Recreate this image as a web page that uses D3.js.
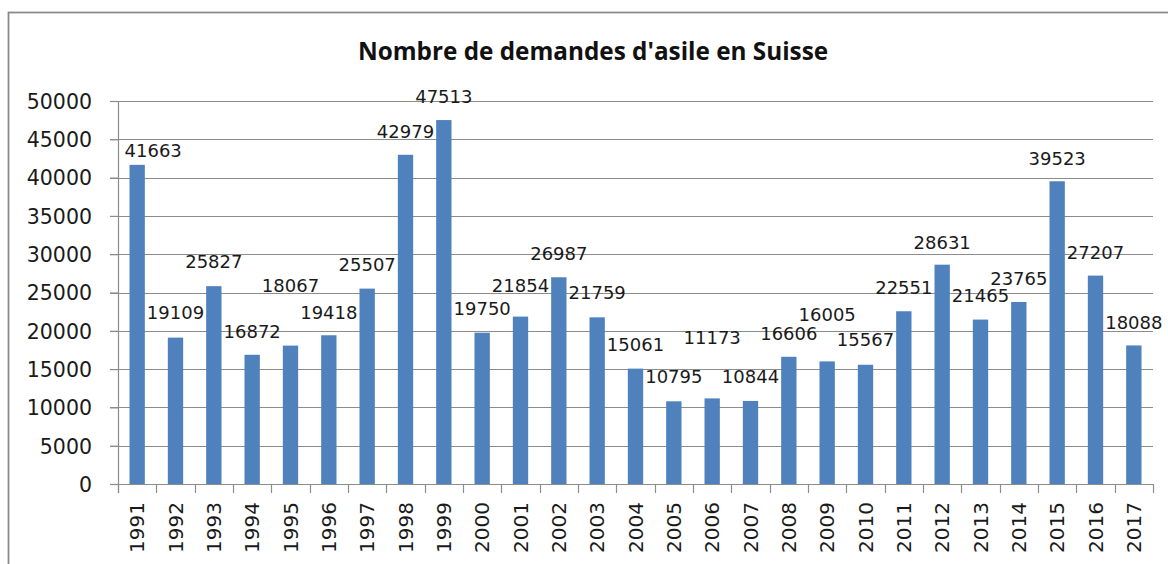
<!DOCTYPE html>
<html>
  <head>
    <title>Nombre de demandes d'asile en Suisse</title>
    <script src="https://unpkg.com/d3@7/dist/d3.min.js"></script>
    <style>
    body { margin: 0; background: #fff; overflow: hidden; }
    .grid line { stroke: #8c8c8c; stroke-width: 1.2; }
    .axisY path { display: none; }
    .axisY line { stroke: #8c8c8c; stroke-width: 1.2; }
    .axisY text { font: 20.5px "DejaVu Sans", sans-serif; fill: #1a1a1a; }
    .xlab { font: 20px "DejaVu Sans", sans-serif; fill: #1a1a1a; }
    .val { font: 18px "DejaVu Sans", sans-serif; fill: #1a1a1a; }
    .title { font: bold 24.3px "Open Sans", sans-serif; fill: #111; }
    </style>
  </head>
  <body>
    <div id="chart"></div>
    <script>
    // data
    var years = ["1991","1992","1993","1994","1995","1996","1997","1998","1999",
      "2000","2001","2002","2003","2004","2005","2006","2007","2008","2009",
      "2010","2011","2012","2013","2014","2015","2016","2017"];
    var requests = [41663, 19109, 25827, 16872, 18067, 19418, 25507, 42979, 47513,
      19750, 21854, 26987, 21759, 15061, 10795, 11173, 10844, 16606, 16005,
      15567, 22551, 28631, 21465, 23765, 39523, 27207, 18088];
    var yTicks = [0, 5000, 10000, 15000, 20000, 25000, 30000, 35000, 40000, 45000, 50000];

    // layout: label offsets (px) from the top centre of each bar, as in the original
    var labelLift = [14, 25, 25, 23, 60, 23, 24, 23, 24, 24, 31, 24, 25, 24,
      25, 61, 24, 23, 47, 25, 24, 22, 24, 23, 23, 23, 23];
    var labelNudge = [16, 0, 0, 0, 0, 0, 0, 0, 0, 0, 0, 0, 0, 0,
      0, 0, 0, 0, 0, 0, 0, 0, 0, 0, 0, 0, 0];

    var W = 1168, H = 564;
    var plotL = 118, plotR = 1153, plotT = 101, plotB = 484;

    var svg = d3.select("#chart").append("svg")
      .attr("width", W)
      .attr("height", H);

    // chart frame (cropped at right/bottom in the original)
    svg.append("rect")
      .attr("x", 8.5).attr("y", 12.5)
      .attr("width", W + 10).attr("height", H + 10)
      .attr("fill", "none")
      .attr("stroke", "#8a8a8a")
      .attr("stroke-width", 1.8);

    svg.append("text")
      .attr("class", "title")
      .attr("x", 593)
      .attr("y", 60)
      .attr("text-anchor", "middle")
      .text("Nombre de demandes d'asile en Suisse");

    var x = d3.scaleBand()
      .domain(years)
      .range([plotL, plotR])
      .paddingInner(0.6)
      .paddingOuter(0.3);

    var y = d3.scaleLinear()
      .domain([0, 50000])
      .range([plotB, plotT]);

    // gridlines
    svg.append("g")
      .attr("class", "grid")
      .selectAll("line")
      .data(yTicks)
      .enter().append("line")
      .attr("x1", plotL - 8)
      .attr("x2", plotR)
      .attr("y1", d => Math.round(y(d)) + 0.5)
      .attr("y2", d => Math.round(y(d)) + 0.5);

    var yAxis = d3.axisLeft(y)
      .tickValues(yTicks)
      .tickSize(8)
      .tickPadding(18)
      .tickFormat(d3.format("d"));

    svg.append("g")
      .attr("class", "axisY")
      .attr("transform", "translate(" + plotL + ",0)")
      .call(yAxis)
      .selectAll("text")
      .attr("dy", "0.36em");

    // vertical axis line
    svg.append("line")
      .attr("x1", plotL + 0.5).attr("x2", plotL + 0.5)
      .attr("y1", plotT).attr("y2", plotB + 9)
      .attr("stroke", "#8c8c8c").attr("stroke-width", 1.2);

    // category tick marks at band boundaries
    var edges = d3.range(years.length + 1).map(i => plotL + i * x.step());
    svg.append("g")
      .selectAll("line")
      .data(edges)
      .enter().append("line")
      .attr("x1", d => Math.round(d) + 0.5)
      .attr("x2", d => Math.round(d) + 0.5)
      .attr("y1", plotB)
      .attr("y2", plotB + 9)
      .attr("stroke", "#8c8c8c")
      .attr("stroke-width", 1.2);

    // bars
    svg.append("g")
      .selectAll("rect")
      .data(years)
      .enter().append("rect")
      .attr("x", d => x(d))
      .attr("width", x.bandwidth())
      .attr("y", (d, i) => y(requests[i]))
      .attr("height", (d, i) => y(0) - y(requests[i]))
      .attr("fill", "#4f81bd");

    // data labels
    svg.append("g")
      .selectAll("text")
      .data(years)
      .enter().append("text")
      .attr("class", "val")
      .attr("x", (d, i) => x(d) + x.bandwidth() / 2 + labelNudge[i])
      .attr("y", (d, i) => y(requests[i]) - labelLift[i])
      .attr("dy", "0.36em")
      .attr("text-anchor", "middle")
      .text((d, i) => requests[i]);

    // rotated year labels
    svg.append("g")
      .selectAll("text")
      .data(years)
      .enter().append("text")
      .attr("class", "xlab")
      .attr("transform", d => "translate(" + (x(d) + x.bandwidth() / 2) + "," + (plotB + 18) + ") rotate(-90)")
      .attr("dy", "0.36em")
      .attr("text-anchor", "end")
      .text(d => d);
    </script>
  </body>
</html>
